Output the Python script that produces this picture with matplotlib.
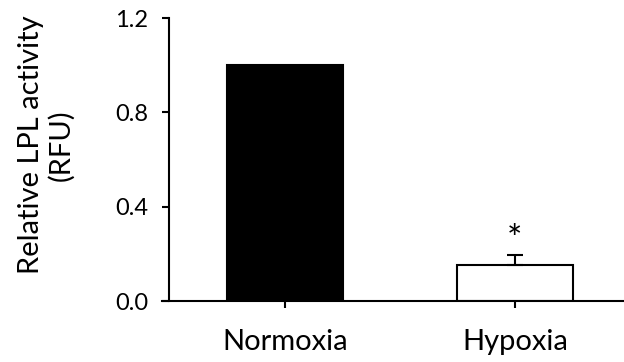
import matplotlib
matplotlib.use("Agg")
import matplotlib.pyplot as plt

categories = ["Normoxia", "Hypoxia"]
values = [1.0, 0.153]
errors = [0.0, 0.042]
bar_colors = ["black", "white"]
yticks = [0.0, 0.4, 0.8, 1.2]
ytick_labels = ["0.0", "0.4", "0.8", "1.2"]
ylabel = "Relative LPL activity\n(RFU)"
sig_marker = ["", "*"]

plt.rcParams['font.family'] = ['Lato', 'DejaVu Sans']

fig = plt.figure(figsize=(6.24, 3.62), dpi=100)
ax = fig.add_axes([169/624, 1-301/362, 1-169/624, (301-18)/362])

x = list(range(len(categories)))
ax.bar(x, values, width=0.505, color=bar_colors, edgecolor="black", linewidth=1.5, zorder=2)
for xi, v, e in zip(x, values, errors):
    if e > 0:
        ax.errorbar(xi, v, yerr=[[0], [e]], fmt="none", ecolor="black", elinewidth=1.5,
                    capsize=6, capthick=1.5, zorder=3)
for xi, v, e, s in zip(x, values, errors, sig_marker):
    if s:
        ax.text(xi, v + e + 0.06, s, ha="center", va="center", fontsize=26)

ax.set_xlim(-0.504, 1.474)
ax.set_ylim(0, 1.2)
ax.set_yticks(yticks)
ax.set_yticklabels(ytick_labels)
ax.set_xticks(x)
ax.set_xticklabels(categories)
for sp in ["top", "right"]:
    ax.spines[sp].set_visible(False)
ax.spines["left"].set_linewidth(1.5)
ax.spines["bottom"].set_linewidth(1.5)
ax.spines["bottom"].set_bounds(-0.535, 1.474)
ax.tick_params(axis="y", direction="out", length=5, width=1.5, pad=10, labelsize=17)
ax.tick_params(axis="x", direction="out", length=5, width=1.5, pad=15, labelsize=21)

fig.text(46/624, 1-145/362, ylabel, rotation=90, ha="center", va="center",
         fontsize=21, linespacing=1.15)

fig.savefig("out.png", dpi=100)
